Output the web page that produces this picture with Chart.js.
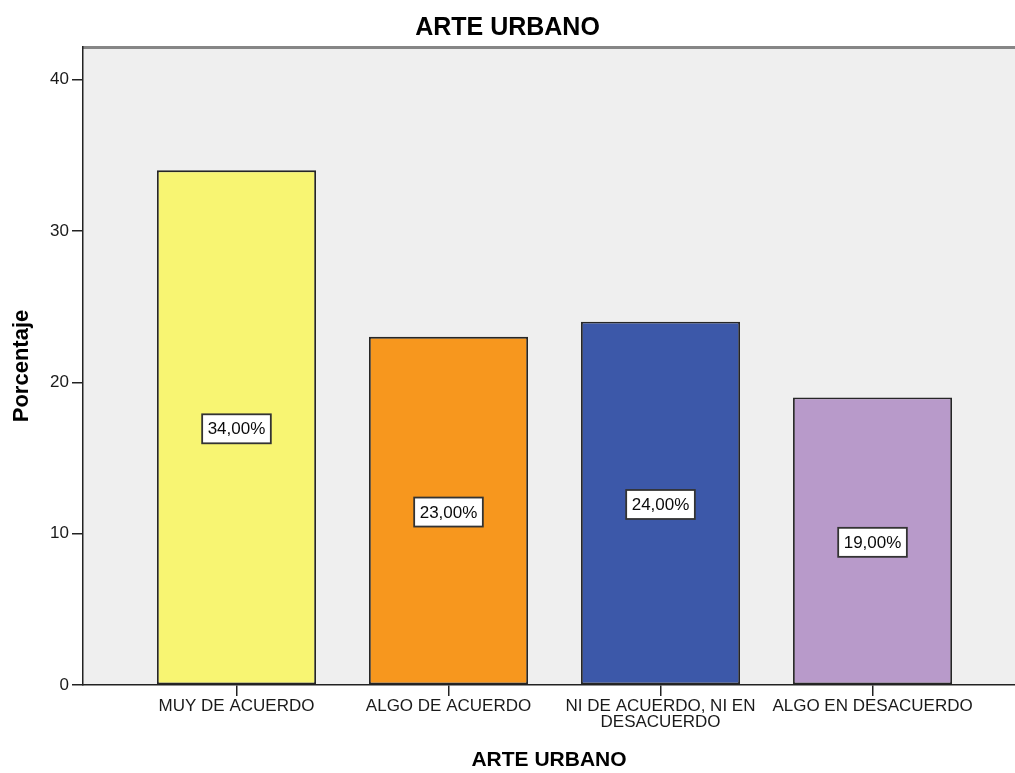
<!DOCTYPE html>
<html>
<head>
<meta charset="utf-8">
<title>ARTE URBANO</title>
<script src="https://cdn.jsdelivr.net/npm/chart.js@4"></script>
<style>
    html, body { margin: 0; padding: 0; background: #ffffff; }
    canvas { display: block; }
</style>
</head>
<body>
<canvas id="arteChart" width="1015" height="773"></canvas>
<script>
// data
const categories = ['MUY DE ACUERDO', 'ALGO DE ACUERDO', 'NI DE ACUERDO, NI EN DESACUERDO', 'ALGO EN DESACUERDO'];
const tickLabels = ['MUY DE ACUERDO', 'ALGO DE ACUERDO', ['NI DE ACUERDO, NI EN', 'DESACUERDO'], 'ALGO EN DESACUERDO'];
const percentages = [34, 23, 24, 19];
const barColors = ['#F8F572', '#F7971E', '#3C58A9', '#B89ACA'];
const yTicks = [0, 10, 20, 30, 40];

const FONT = '"Liberation Sans", Arial, sans-serif';

// grey plot background + top frame line
const plotFrame = {
    id: 'plotFrame',
    beforeDraw(chart) {
        const { ctx, chartArea: a } = chart;
        ctx.save();
        ctx.fillStyle = '#EFEFEF';
        ctx.fillRect(a.left, a.top, a.right - a.left, a.bottom - a.top);
        ctx.strokeStyle = '#868686';
        ctx.lineWidth = 3;
        ctx.beginPath();
        ctx.moveTo(a.left, a.top + 0.5);
        ctx.lineTo(a.right, a.top + 0.5);
        ctx.stroke();
        ctx.restore();
    }
};

// boxed percentage label in the middle of each bar
const boxLabels = {
    id: 'boxLabels',
    afterDatasetsDraw(chart) {
        const { ctx } = chart;
        const meta = chart.getDatasetMeta(0);
        ctx.save();
        ctx.font = '17px ' + FONT;
        ctx.textAlign = 'center';
        ctx.textBaseline = 'middle';
        meta.data.forEach((bar, i) => {
            const text = percentages[i].toFixed(2).replace('.', ',') + '%';
            const cx = bar.x;
            const cy = (bar.y + bar.base) / 2 + 1.5;
            const w = ctx.measureText(text).width + 11;
            const h = 29;
            ctx.fillStyle = '#ffffff';
            ctx.fillRect(cx - w / 2, cy - h / 2, w, h);
            ctx.strokeStyle = '#333333';
            ctx.lineWidth = 1.8;
            ctx.strokeRect(cx - w / 2, cy - h / 2, w, h);
            ctx.fillStyle = '#0a0a0a';
            ctx.fillText(text, cx, cy + 1);
        });
        ctx.restore();
    }
};

const ctx = document.getElementById('arteChart').getContext('2d');

window.arteChart = new Chart(ctx, {
    type: 'bar',
    data: {
        labels: categories,
        datasets: [{
            label: 'Porcentaje',
            data: percentages.map((v, i) => ({ x: i, y: v })),
            backgroundColor: barColors,
            borderColor: '#262626',
            borderWidth: 1.8,
            borderSkipped: false,
            categoryPercentage: 1,
            barPercentage: 0.75
        }]
    },
    options: {
        responsive: false,
        animation: false,
        layout: { padding: 0 },
        plugins: {
            legend: { display: false },
            tooltip: { enabled: false },
            title: {
                display: true,
                text: 'ARTE URBANO',
                color: '#000000',
                font: { family: FONT, size: 25, weight: 'bold' },
                padding: { top: 13, bottom: 4 }
            }
        },
        scales: {
            x: {
                type: 'linear',
                offset: false,
                min: -0.724,
                max: 3.672,
                afterBuildTicks: axis => { axis.ticks = categories.map((c, i) => ({ value: i })); },
                afterFit: axis => { axis.height = 88; },
                grid: { offset: false, drawOnChartArea: false, drawTicks: true, tickLength: 11, color: '#222222', lineWidth: 1.5 },
                border: { display: true, color: '#222222', width: 1.5 },
                ticks: {
                    autoSkip: false,
                    maxRotation: 0,
                    padding: 3,
                    color: '#1a1a1a',
                    font: { family: FONT, size: 17, lineHeight: 0.9 },
                    callback: value => tickLabels[value]
                },
                title: {
                    display: true,
                    text: 'ARTE URBANO',
                    color: '#000000',
                    font: { family: FONT, size: 21, weight: 'bold' },
                    padding: { top: 0, bottom: 0 }
                }
            },
            y: {
                min: 0,
                max: 42.15,
                afterBuildTicks: axis => { axis.ticks = yTicks.map(v => ({ value: v })); },
                afterFit: axis => { axis.width = 83; },
                grid: { drawOnChartArea: false, drawTicks: true, tickLength: 11, color: '#222222', lineWidth: 1.5 },
                border: { display: true, color: '#222222', width: 1.5 },
                ticks: {
                    padding: 3,
                    color: '#1a1a1a',
                    font: { family: FONT, size: 17 }
                },
                title: {
                    display: true,
                    text: 'Porcentaje',
                    color: '#000000',
                    font: { family: FONT, size: 22, weight: 'bold' },
                    padding: { top: 9, bottom: 0 }
                }
            }
        }
    },
    plugins: [plotFrame, boxLabels]
});
</script>
</body>
</html>
